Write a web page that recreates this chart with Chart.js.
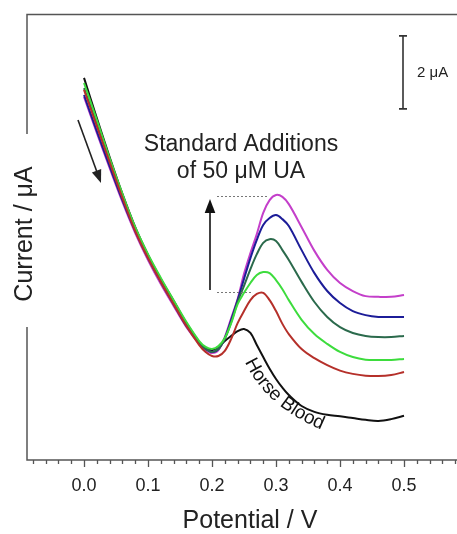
<!DOCTYPE html>
<html>
<head>
<meta charset="utf-8">
<script src="https://cdn.jsdelivr.net/npm/chart.js@4.4.0/dist/chart.umd.min.js"></script>
<style>
  body { margin: 0; background: #fff; }
  #chart { display: block; }
</style>
</head>
<body>
<canvas id="chart" width="457" height="534"></canvas>
<script>
// potential (V) and current (uA, arbitrary offset)
const potential = [0.00, 0.02, 0.04, 0.06, 0.08, 0.10, 0.12, 0.14, 0.16, 0.18, 0.19, 0.20, 0.21, 0.22, 0.23, 0.24, 0.25,
  0.26, 0.27, 0.28, 0.29, 0.30, 0.31, 0.32, 0.34, 0.36, 0.38, 0.40, 0.42, 0.44, 0.46, 0.48, 0.50];

const horseBlood = [10.47, 9.37, 8.30, 7.29, 6.38, 5.62, 4.96, 4.36, 3.75, 3.23, 3.07, 3.01, 3.10, 3.26, 3.40, 3.53, 3.59,
  3.48, 3.15, 2.82, 2.50, 2.22, 1.98, 1.78, 1.48, 1.32, 1.24, 1.20, 1.15, 1.10, 1.07, 1.12, 1.21];
const addition1 = [10.14, 9.15, 8.16, 7.18, 6.27, 5.53, 4.88, 4.27, 3.67, 3.15, 2.96, 2.85, 2.85, 2.99, 3.32, 3.75, 4.08,
  4.38, 4.55, 4.58, 4.38, 4.08, 3.73, 3.45, 3.04, 2.79, 2.60, 2.45, 2.36, 2.31, 2.30, 2.33, 2.41];
const addition2 = [10.33, 9.32, 8.27, 7.29, 6.38, 5.64, 4.99, 4.38, 3.78, 3.26, 3.10, 3.04, 3.12, 3.34, 3.75, 4.27, 4.58,
  4.85, 5.07, 5.15, 5.12, 4.93, 4.68, 4.38, 3.84, 3.45, 3.18, 2.96, 2.82, 2.75, 2.74, 2.74, 2.77];
const addition3 = [10.19, 9.21, 8.19, 7.23, 6.33, 5.59, 4.93, 4.33, 3.73, 3.21, 3.04, 2.96, 3.04, 3.32, 3.78, 4.33, 4.77,
  5.23, 5.64, 5.95, 6.05, 6.00, 5.75, 5.48, 4.88, 4.33, 3.92, 3.64, 3.48, 3.40, 3.37, 3.37, 3.40];
const addition4 = [10.00, 9.01, 8.05, 7.12, 6.27, 5.53, 4.88, 4.27, 3.67, 3.21, 3.04, 2.96, 3.04, 3.34, 3.84, 4.38, 4.96,
  5.53, 6.03, 6.44, 6.63, 6.71, 6.60, 6.41, 5.75, 5.12, 4.63, 4.30, 4.08, 3.97, 3.92, 3.92, 3.92];
const addition5 = [9.95, 8.96, 8.00, 7.07, 6.22, 5.48, 4.82, 4.22, 3.64, 3.18, 3.01, 2.93, 3.01, 3.37, 3.89, 4.41, 5.10,
  5.67, 6.19, 6.77, 7.12, 7.26, 7.21, 7.01, 6.38, 5.73, 5.21, 4.85, 4.63, 4.49, 4.47, 4.47, 4.52];

const majorTicks = [0.0, 0.1, 0.2, 0.3, 0.4, 0.5];
const majorLabels = ["0.0", "0.1", "0.2", "0.3", "0.4", "0.5"];
const minorTicks = [-0.08, -0.06, -0.04, -0.02, 0.02, 0.04, 0.06, 0.08, 0.12, 0.14, 0.16, 0.18, 0.22, 0.24, 0.26, 0.28,
  0.32, 0.34, 0.36, 0.38, 0.42, 0.44, 0.46, 0.48, 0.52, 0.54, 0.56, 0.58];

// scale bar: 2 uA, drawn from the y scale
const scaleBarTop = 11.62;
const scaleBarSize = 2;

const allSeries = [addition1, addition2, addition3, addition4, addition5, horseBlood];
const allColors = ["#b5302a", "#3ddc3d", "#2b6a4c", "#1c1c98", "#c43fca", "#111111"];

const FONT = "'Liberation Sans', Arial, Helvetica, sans-serif";

function toPoints(values) {
  return values.map((v, i) => ({ x: potential[i], y: v }));
}

function arrow(ctx, x1, y1, x2, y2, head, color) {
  const ang = Math.atan2(y2 - y1, x2 - x1);
  ctx.strokeStyle = color;
  ctx.fillStyle = color;
  ctx.lineWidth = 1.6;
  ctx.beginPath();
  ctx.moveTo(x1, y1);
  ctx.lineTo(x2 - Math.cos(ang) * head * 0.8, y2 - Math.sin(ang) * head * 0.8);
  ctx.stroke();
  ctx.beginPath();
  ctx.moveTo(x2, y2);
  ctx.lineTo(x2 - head * Math.cos(ang) + head * 0.38 * Math.sin(ang), y2 - head * Math.sin(ang) - head * 0.38 * Math.cos(ang));
  ctx.lineTo(x2 - head * Math.cos(ang) - head * 0.38 * Math.sin(ang), y2 - head * Math.sin(ang) + head * 0.38 * Math.cos(ang));
  ctx.closePath();
  ctx.fill();
}

// place text along a quadratic curve
function textOnCurve(ctx, text, p0, p1, p2, startOffset) {
  const pts = [];
  const n = 200;
  for (let i = 0; i <= n; i++) {
    const t = i / n;
    const a = (1 - t) * (1 - t), b = 2 * (1 - t) * t, c = t * t;
    pts.push({ x: a * p0[0] + b * p1[0] + c * p2[0], y: a * p0[1] + b * p1[1] + c * p2[1] });
  }
  const len = [0];
  for (let i = 1; i < pts.length; i++) {
    len.push(len[i - 1] + Math.hypot(pts[i].x - pts[i - 1].x, pts[i].y - pts[i - 1].y));
  }
  function at(s) {
    let i = 1;
    while (i < len.length - 1 && len[i] < s) i++;
    const p = pts[i - 1], q = pts[i];
    const f = (s - len[i - 1]) / (len[i] - len[i - 1] || 1);
    return { x: p.x + (q.x - p.x) * f, y: p.y + (q.y - p.y) * f, a: Math.atan2(q.y - p.y, q.x - p.x) };
  }
  let s = startOffset;
  ctx.textAlign = "center";
  ctx.textBaseline = "alphabetic";
  for (const ch of text) {
    const w = ctx.measureText(ch).width;
    const p = at(s + w / 2);
    ctx.save();
    ctx.translate(p.x, p.y);
    ctx.rotate(p.a);
    ctx.fillText(ch, 0, 0);
    ctx.restore();
    s += w;
  }
}

const decorations = {
  id: "decorations",
  afterDraw(chart) {
    const ctx = chart.ctx;
    const xs = chart.scales.x;
    const ys = chart.scales.y;
    const L = chart.chartArea.left, R = chart.chartArea.right;
    const T = chart.chartArea.top, B = chart.chartArea.bottom;
    ctx.save();

    // frame (left axis broken around the title)
    ctx.strokeStyle = "#555";
    ctx.lineWidth = 1.5;
    ctx.beginPath();
    ctx.moveTo(R, T + 0.5);
    ctx.lineTo(L, T + 0.5);
    ctx.lineTo(L, 134);
    ctx.moveTo(L, 327);
    ctx.lineTo(L, B);
    ctx.lineTo(R, B);
    ctx.stroke();

    // x ticks
    ctx.lineWidth = 1.3;
    ctx.beginPath();
    majorTicks.forEach(v => {
      const px = Math.round(xs.getPixelForValue(v)) + 0.5;
      ctx.moveTo(px, B);
      ctx.lineTo(px, B + 7);
    });
    minorTicks.forEach(v => {
      const px = Math.round(xs.getPixelForValue(v)) + 0.5;
      ctx.moveTo(px, B);
      ctx.lineTo(px, B + 4);
    });
    ctx.stroke();

    ctx.fillStyle = "#222";
    ctx.font = "18px " + FONT;
    ctx.textAlign = "center";
    ctx.textBaseline = "middle";
    majorTicks.forEach((v, i) => {
      ctx.fillText(majorLabels[i], xs.getPixelForValue(v), 486);
    });

    // axis titles
    ctx.font = "25px " + FONT;
    ctx.fillText("Potential / V", 250, 521);
    ctx.save();
    ctx.translate(25, 234);
    ctx.rotate(-Math.PI / 2);
    ctx.fillText("Current / \u03bcA", 0, 0);
    ctx.restore();

    // scale bar 2 uA
    const sbTop = ys.getPixelForValue(scaleBarTop);
    const sbBot = ys.getPixelForValue(scaleBarTop - scaleBarSize);
    ctx.strokeStyle = "#333";
    ctx.lineWidth = 1.6;
    ctx.beginPath();
    ctx.moveTo(403, sbTop); ctx.lineTo(403, sbBot);
    ctx.moveTo(399, sbTop); ctx.lineTo(407, sbTop);
    ctx.moveTo(399, sbBot); ctx.lineTo(407, sbBot);
    ctx.stroke();
    ctx.fillStyle = "#222";
    ctx.font = "15px " + FONT;
    ctx.textAlign = "left";
    ctx.fillText("2 \u03bcA", 417, (sbTop + sbBot) / 2);

    // annotation text
    ctx.font = "23px " + FONT;
    ctx.textAlign = "center";
    ctx.fillText("Standard Additions", 241, 145);
    ctx.fillText("of 50 \u03bcM UA", 241, 172);

    // dotted guides
    ctx.strokeStyle = "#777";
    ctx.lineWidth = 1;
    ctx.setLineDash([2, 2]);
    ctx.beginPath();
    ctx.moveTo(217, 196.5); ctx.lineTo(268, 196.5);
    ctx.moveTo(217, 292.5); ctx.lineTo(252, 292.5);
    ctx.stroke();
    ctx.setLineDash([]);

    arrow(ctx, 210, 290, 210, 199, 14, "#111");
    arrow(ctx, 78, 120, 101, 183, 13, "#222");

    // Horse Blood label along the curve
    ctx.fillStyle = "#111";
    ctx.font = "19px " + FONT;
    textOnCurve(ctx, "Horse Blood", [244, 360], [268, 414], [344, 438], 2);

    ctx.restore();
  }
};

new Chart(document.getElementById("chart"), {
  type: "line",
  data: {
    datasets: allSeries.map((s, i) => ({
      data: toPoints(s),
      borderColor: allColors[i],
      borderWidth: 2,
      pointRadius: 0,
      fill: false,
      tension: 0.35
    }))
  },
  options: {
    responsive: false,
    animation: false,
    devicePixelRatio: 1,
    layout: { padding: { left: 27, right: 0, top: 14, bottom: 74 } },
    plugins: { legend: { display: false }, tooltip: { enabled: false } },
    scales: {
      x: { type: "linear", min: -0.0891, max: 0.5828, display: false },
      y: { type: "linear", min: 0, max: 12.22, display: false }
    }
  },
  plugins: [decorations]
});
</script>
</body>
</html>
